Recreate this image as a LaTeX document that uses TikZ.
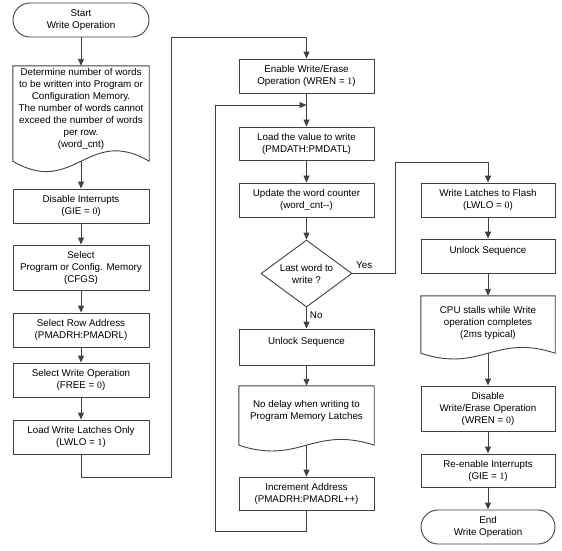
\documentclass[tikz,border=0pt]{standalone}
\usepackage{fontspec}
\setmainfont{Liberation Sans}
\newfontfamily\digfont{Liberation Serif}
\newcommand{\dg}[1]{{\digfont #1}}
\usetikzlibrary{arrows.meta,shapes.geometric,calc}
\definecolor{lc}{HTML}{404040}
\newcommand{\docpath}[2]{\draw[lc, line width=0.9pt] (#1.north west) -- (#1.south west) .. controls ($(#1.south)+(-7,#2)$) and ($(#1.south)+(7,-#2)$) .. (#1.south east) -- (#1.north east) -- cycle;}
\begin{document}
\begin{tikzpicture}[x=1pt,y=-1pt,
  txt/.style={align=center, inner sep=0pt, font=\fontsize{9.8}{12}\selectfont, text=black},
  box/.style={txt, draw=lc, line width=0.9pt, minimum width=136pt, minimum height=34pt},
  term/.style={box, rounded corners=17pt},
  docbox/.style={minimum width=136pt, inner sep=0pt},
  dec/.style={txt, draw=lc, line width=0.9pt, diamond, shape aspect=1.36, minimum width=91pt, minimum height=67pt},
  conn/.style={lc, line width=0.9pt},
  arr/.style={conn, -{Triangle[length=7pt,width=6pt]}},
  lab/.style={txt}
]
\useasboundingbox (0,0) rectangle (562,550);

% column 1
\node[term] (start) at (81,20) {Start\\Write Operation};
\node[docbox, minimum height=95pt] (doc1) at (81,113.5) {};
\docpath{doc1}{36}
\node[txt] (doc1t) at (81,108.5) {Determine number of words\\to be written into Program or\\Configuration Memory.\\The number of words cannot\\exceed the number of words\\per row.\\(word\_cnt)};
\node[box] (dis) at (81,206) {Disable Interrupts\\(GIE = \dg{0})};
\node[box, minimum height=45pt] (sel) at (81,267.5) {Select\\Program or Config. Memory\\(CFGS)};
\node[box] (row) at (81,330) {Select Row Address\\(PMADRH:PMADRL)};
\node[box] (wop) at (81,380) {Select Write Operation\\(FREE = \dg{0})};
\node[box] (lwl) at (81,437) {Load Write Latches Only\\(LWLO = \dg{1})};

% column 2
\node[box, minimum width=135pt] (en) at (306.5,76) {Enable Write/Erase\\Operation (WREN = \dg{1})};
\node[box, minimum width=135pt, minimum height=33pt] (ld) at (306.5,143.5) {Load the value to write\\(PMDATH:PMDATL)};
\node[box, minimum width=135pt] (upd) at (306.5,200) {Update the word counter\\(word\_cnt-{}-)};
\node[dec] (dia) at (306.5,273.5) {Last word to\\write ?};
\node[box, minimum width=135pt, minimum height=36pt] (uns2) at (306.5,347) {Unlock Sequence\\~};
\node[docbox, minimum width=135pt, minimum height=59pt] (doc2) at (306.5,415.5) {};
\docpath{doc2}{20}
\node[txt] (doc2t) at (306.5,411) {No delay when writing to\\Program Memory Latches};
\node[box, minimum width=135pt, minimum height=33pt] (inc) at (306.5,493.5) {Increment Address\\(PMADRH:PMADRL++)};

% column 3
\node[box, minimum width=134pt] (wl) at (488,200) {Write Latches to Flash\\(LWLO = \dg{0})};
\node[box, minimum width=134pt] (uns3) at (488,256) {Unlock Sequence\\~};
\node[docbox, minimum width=134pt, minimum height=57pt] (doc3) at (488,324.5) {};
\docpath{doc3}{20}
\node[txt] (doc3t) at (488,323) {CPU stalls while Write\\operation completes\\(2ms typical)};
\node[box, minimum width=134pt, minimum height=45pt] (dwe) at (488,408.5) {Disable\\Write/Erase Operation\\(WREN = \dg{0})};
\node[box, minimum width=134pt, minimum height=33pt] (rei) at (488,470.5) {Re-enable Interrupts\\(GIE = \dg{1})};
\node[term, minimum width=134pt] (endn) at (488,527) {End\\Write Operation};

% helper coordinates
\coordinate (c1) at (171,477);
\coordinate (c2) at (171,37);
\coordinate (l1) at (215,531);
\coordinate (l2) at (215,105);
\coordinate (l3) at (306.5,105);
\coordinate (y1) at (395,273.5);
\coordinate (y2) at (395,162);

% connectors column 1
\draw[arr] (start) -- (doc1.north);
\draw[arr] (doc1.south) -- (dis);
\draw[arr] (dis) -- (sel);
\draw[arr] (sel) -- (row);
\draw[arr] (row) -- (wop);
\draw[arr] (wop) -- (lwl);
\draw[arr] (lwl.south) |- (c1) -- (c2) -| (en.north);

% column 2
\draw[arr] (en) -- (ld);
\draw[arr] (inc.south) |- (l1) -- (l2) -- (l3);
\draw[arr] (ld) -- (upd);
\draw[arr] (upd) -- (dia);
\draw[arr] (dia) -- node[lab, anchor=west, pos=0.35, xshift=3pt] (no) {No} (uns2);
\draw[arr] (uns2) -- (doc2.north);
\draw[arr] (doc2.south) -- (inc);
\draw[arr] (dia.east) -- (y1) -- (y2) -| (wl.north);
\node[lab, anchor=west] (yes) at (356,265) {Yes};

% column 3
\draw[arr] (wl) -- (uns3);
\draw[arr] (uns3) -- (doc3.north);
\draw[arr] (doc3.south) -- (dwe);
\draw[arr] (dwe) -- (rei);
\draw[arr] (rei) -- (endn);
\end{tikzpicture}
\end{document}
